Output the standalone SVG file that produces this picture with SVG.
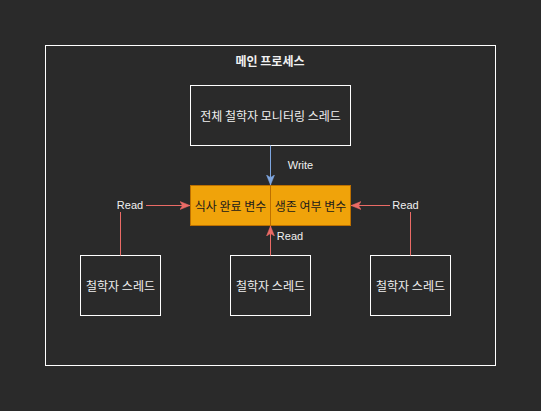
<svg xmlns="http://www.w3.org/2000/svg" width="541" height="411" viewBox="0 0 541 411">
<style>
.box{fill:none;stroke:#ffffff;stroke-width:1}
.var{fill:#f0a30a;stroke:#bd7000;stroke-width:1}
.t{font-family:"Noto Sans CJK KR","Liberation Sans",sans-serif;font-size:12px;fill:#f0f0f0;text-anchor:middle;dominant-baseline:central}
.vt{font-family:"Noto Sans CJK KR","Liberation Sans",sans-serif;font-size:12px;fill:#1a1a1a;text-anchor:middle;dominant-baseline:central}
.lb{font-family:"Liberation Sans","Noto Sans CJK KR",sans-serif;font-size:11px;fill:#f0f0f0;text-anchor:middle;dominant-baseline:central}
.red{fill:none;stroke:#ea6b66;stroke-width:1}
.blue{fill:none;stroke:#7ea6e0;stroke-width:1}
</style>
<defs>
<marker id="ar" viewBox="0 0 10 10" refX="10" refY="5" markerWidth="10" markerHeight="10" markerUnits="userSpaceOnUse" orient="auto">
<path d="M0,1 L10,5 L0,9 L2.5,5 Z" fill="#ea6b66" stroke="#ea6b66" stroke-width="0.5"/>
</marker>
<marker id="ab" viewBox="0 0 10 10" refX="10" refY="5" markerWidth="10" markerHeight="10" markerUnits="userSpaceOnUse" orient="auto">
<path d="M0,1 L10,5 L0,9 L2.5,5 Z" fill="#7ea6e0" stroke="#7ea6e0" stroke-width="0.5"/>
</marker>
</defs>
<rect width="541" height="411" fill="#2a2a2a"/>
<g id="main-process">
<rect class="box" x="45.5" y="45.5" width="450" height="320"/>
<text class="t" x="270" y="60" font-weight="bold">메인 프로세스</text>
</g>
<g id="monitor">
<rect class="box" x="190.5" y="85.5" width="160" height="60"/>
<text class="t" x="270.5" y="115.5">전체 철학자 모니터링 스레드</text>
</g>
<g id="vars">
<rect class="var" x="190.5" y="185.5" width="80" height="40"/>
<text class="vt" x="230.5" y="205.5">식사 완료 변수</text>
<rect class="var" x="270.5" y="185.5" width="80" height="40"/>
<text class="vt" x="310.5" y="205.5">생존 여부 변수</text>
</g>
<g id="philo-left">
<rect class="box" x="80.5" y="255.5" width="80" height="60"/>
<text class="t" x="120.5" y="285.5">철학자 스레드</text>
</g>
<g id="philo-mid">
<rect class="box" x="230.5" y="255.5" width="80" height="60"/>
<text class="t" x="270.5" y="285.5">철학자 스레드</text>
</g>
<g id="philo-right">
<rect class="box" x="370.5" y="255.5" width="80" height="60"/>
<text class="t" x="410.5" y="285.5">철학자 스레드</text>
</g>
<g id="connectors">
<path class="blue" d="M270.5,145.5 V185" marker-end="url(#ab)"/>
<text class="lb" x="300.5" y="164.5">Write</text>
<path class="red" d="M120.5,255.5 V205.5 H190" marker-end="url(#ar)"/>
<rect x="114" y="198" width="32" height="14" fill="#2a2a2a"/>
<text class="lb" x="130" y="205">Read</text>
<path class="red" d="M410.5,255.5 V205.5 H351" marker-end="url(#ar)"/>
<rect x="390" y="198" width="32" height="14" fill="#2a2a2a"/>
<text class="lb" x="405.5" y="205">Read</text>
<path class="red" d="M270.5,255.5 V226" marker-end="url(#ar)"/>
<text class="lb" x="290" y="235.5">Read</text>
</g>
</svg>
